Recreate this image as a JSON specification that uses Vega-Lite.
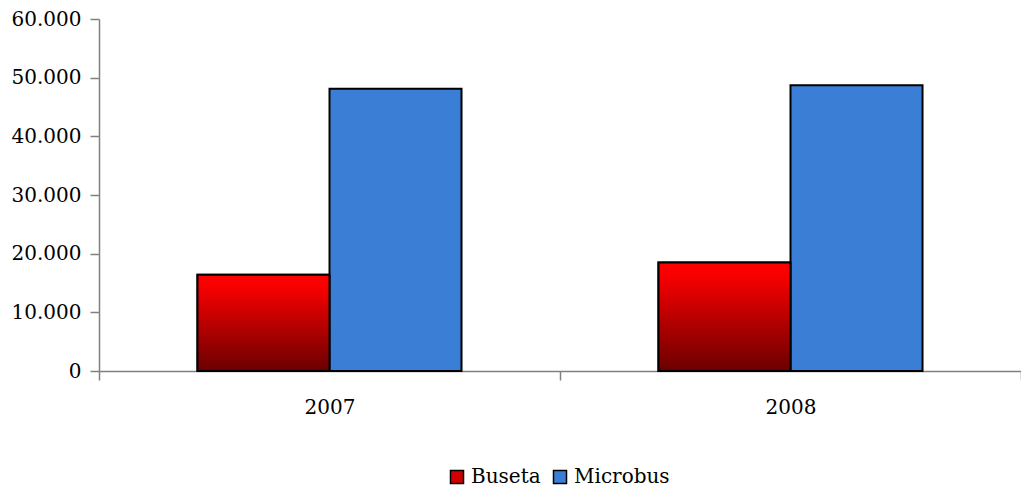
{
  "$schema": "https://vega.github.io/schema/vega-lite/v6.json",
  "width": 922,
  "height": 352,
  "autosize": {"type": "none"},
  "padding": {"left": 99, "top": 19, "right": 0, "bottom": 117},
  "background": "white",
  "config": {
    "view": {"stroke": null},
    "font": "DejaVu Serif",
    "axis": {"labelFont": "DejaVu Serif", "labelFontSize": 20, "labelColor": "#000000", "domainColor": "#808080", "tickColor": "#808080", "domainWidth": 1.5, "tickWidth": 1.5, "grid": false}
  },
  "data": {
    "values": [
      {"year": "2007", "series": "Buseta", "value": 16400},
      {"year": "2007", "series": "Microbus", "value": 48100},
      {"year": "2008", "series": "Buseta", "value": 18500},
      {"year": "2008", "series": "Microbus", "value": 48700}
    ]
  },
  "encoding": {
    "x": {
      "field": "year",
      "type": "nominal",
      "scale": {"paddingInner": 0, "paddingOuter": 0},
      "axis": {"title": null, "labelAngle": 0, "tickBand": "extent", "tickSize": 9, "labelPadding": 17}
    },
    "xOffset": {
      "field": "series",
      "type": "nominal",
      "scale": {"domain": ["Buseta", "Microbus"], "paddingInner": 0, "paddingOuter": 0.746}
    },
    "y": {
      "field": "value",
      "type": "quantitative",
      "scale": {"domain": [0, 60000], "nice": false},
      "axis": {"title": null, "values": [0, 10000, 20000, 30000, 40000, 50000, 60000], "tickSize": 9, "labelPadding": 9, "labelExpr": "replace(format(datum.value, ','), ',', '.')"}
    }
  },
  "layer": [
    {
      "mark": {"type": "bar", "stroke": "#000000", "strokeWidth": 2},
      "encoding": {
        "color": {
          "field": "series",
          "type": "nominal",
          "scale": {"domain": ["Buseta", "Microbus"], "range": ["#d00000", "#3a7fd5"]},
          "legend": {
            "title": null,
            "orient": "none",
            "direction": "horizontal",
            "legendX": 348,
            "legendY": 448,
            "symbolType": "square",
            "symbolSize": 169,
            "symbolStrokeColor": "#000000",
            "symbolStrokeWidth": 1.5,
            "symbolOpacity": 1,
            "labelFont": "DejaVu Serif",
            "labelFontSize": 20,
            "labelColor": "#000000",
            "labelOffset": 4,
            "columnPadding": 9,
            "padding": 0
          }
        }
      }
    },
    {
      "transform": [{"filter": "datum.series === 'Buseta'"}],
      "mark": {
        "type": "bar",
        "stroke": "#000000",
        "strokeWidth": 2,
        "color": {
          "gradient": "linear",
          "x1": 0, "y1": 0, "x2": 0, "y2": 1,
          "stops": [
            {"offset": 0, "color": "#ff0000"},
            {"offset": 0.12, "color": "#f80000"},
            {"offset": 1, "color": "#6b0000"}
          ]
        }
      }
    }
  ]
}
